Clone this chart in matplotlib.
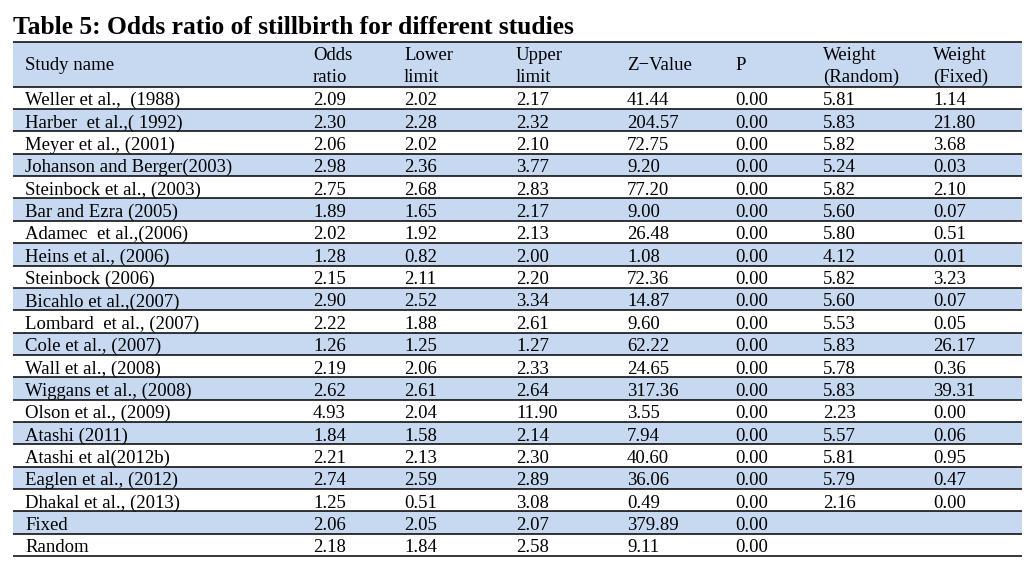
import matplotlib
matplotlib.use("Agg")
import matplotlib.pyplot as plt
from matplotlib.patches import Rectangle

title = "Table 5: Odds ratio of stillbirth for different studies"
headers = [["Study name"], ["Odds", "ratio"], ["Lower", "limit"], ["Upper", "limit"],
           ["Z\u2212Value"], ["P"], ["Weight", "(Random)"], ["Weight", "(Fixed)"]]

studies = ["Weller et al.,  (1988)", "Harber  et al.,( 1992)", "Meyer et al., (2001)",
           "Johanson and Berger(2003)", "Steinbock et al., (2003)", "Bar and Ezra (2005)",
           "Adamec  et al.,(2006)", "Heins et al., (2006)", "Steinbock (2006)",
           "Bicahlo et al.,(2007)", "Lombard  et al., (2007)", "Cole et al., (2007)",
           "Wall et al., (2008)", "Wiggans et al., (2008)", "Olson et al., (2009)",
           "Atashi (2011)", "Atashi et al(2012b)", "Eaglen et al., (2012)",
           "Dhakal et al., (2013)", "Fixed", "Random"]
odds = ["2.09", "2.30", "2.06", "2.98", "2.75", "1.89", "2.02", "1.28", "2.15", "2.90",
        "2.22", "1.26", "2.19", "2.62", "4.93", "1.84", "2.21", "2.74", "1.25", "2.06", "2.18"]
lower = ["2.02", "2.28", "2.02", "2.36", "2.68", "1.65", "1.92", "0.82", "2.11", "2.52",
         "1.88", "1.25", "2.06", "2.61", "2.04", "1.58", "2.13", "2.59", "0.51", "2.05", "1.84"]
upper = ["2.17", "2.32", "2.10", "3.77", "2.83", "2.17", "2.13", "2.00", "2.20", "3.34",
         "2.61", "1.27", "2.33", "2.64", "11.90", "2.14", "2.30", "2.89", "3.08", "2.07", "2.58"]
zval = ["41.44", "204.57", "72.75", "9.20", "77.20", "9.00", "26.48", "1.08", "72.36", "14.87",
        "9.60", "62.22", "24.65", "317.36", "3.55", "7.94", "40.60", "36.06", "0.49", "379.89", "9.11"]
pval = ["0.00"] * 21
w_random = ["5.81", "5.83", "5.82", "5.24", "5.82", "5.60", "5.80", "4.12", "5.82", "5.60",
            "5.53", "5.83", "5.78", "5.83", "2.23", "5.57", "5.81", "5.79", "2.16", "", ""]
w_fixed = ["1.14", "21.80", "3.68", "0.03", "2.10", "0.07", "0.51", "0.01", "3.23", "0.07",
           "0.05", "26.17", "0.36", "39.31", "0.00", "0.06", "0.95", "0.47", "0.00", "", ""]

columns = [studies, odds, lower, upper, zval, pval, w_random, w_fixed]

W, H = 1036, 561
fig = plt.figure(figsize=(W / 100, H / 100), dpi=100)
ax = fig.add_axes([0, 0, 1, 1])
ax.set_xlim(0, W)
ax.set_ylim(H, 0)
ax.axis("off")

FONT = "Liberation Serif"
BLUE = "#c6d9f1"
left, right = 13, 1022
top, head_bot = 42, 86.7
row_h = 22.35
col_x = [25, 313, 404, 516, 627, 735, 823, 933]

ax.text(left, 33.5, title, fontsize=18.4, fontweight="bold", family=FONT,
        ha="left", va="baseline", color="black")

# header background and alternate row shading
ax.add_patch(Rectangle((left, top), right - left, head_bot - top, facecolor=BLUE, edgecolor="none"))
for i in range(len(studies)):
    y0 = head_bot + i * row_h
    if i % 2 == 1:
        ax.add_patch(Rectangle((left, y0), right - left, row_h, facecolor=BLUE, edgecolor="none"))

# horizontal lines
for i in range(len(studies) + 1):
    y = head_bot + i * row_h
    ax.plot([left, right], [y, y], color="black", lw=1.1, solid_capstyle="butt")
ax.plot([left, right], [top, top], color="black", lw=1.1, solid_capstyle="butt")

fs = 13.5
# header text
for x, h in zip(col_x, headers):
    if len(h) == 1:
        ax.text(x, 70, h[0], fontsize=fs, family=FONT,
                ha="left", va="baseline", color="black")
    else:
        ax.text(x, 59.5, h[0], fontsize=fs, family=FONT, ha="left", va="baseline", color="black")
        ax.text(x, 81.5, h[1], fontsize=fs, family=FONT, ha="left", va="baseline", color="black")

# body text
for j, col in enumerate(columns):
    for i, val in enumerate(col):
        y = head_bot + i * row_h + 18.6
        ax.text(col_x[j], y, val, fontsize=fs, family=FONT, ha="left", va="baseline", color="black")

fig.savefig("out.png", dpi=100, facecolor="white")
